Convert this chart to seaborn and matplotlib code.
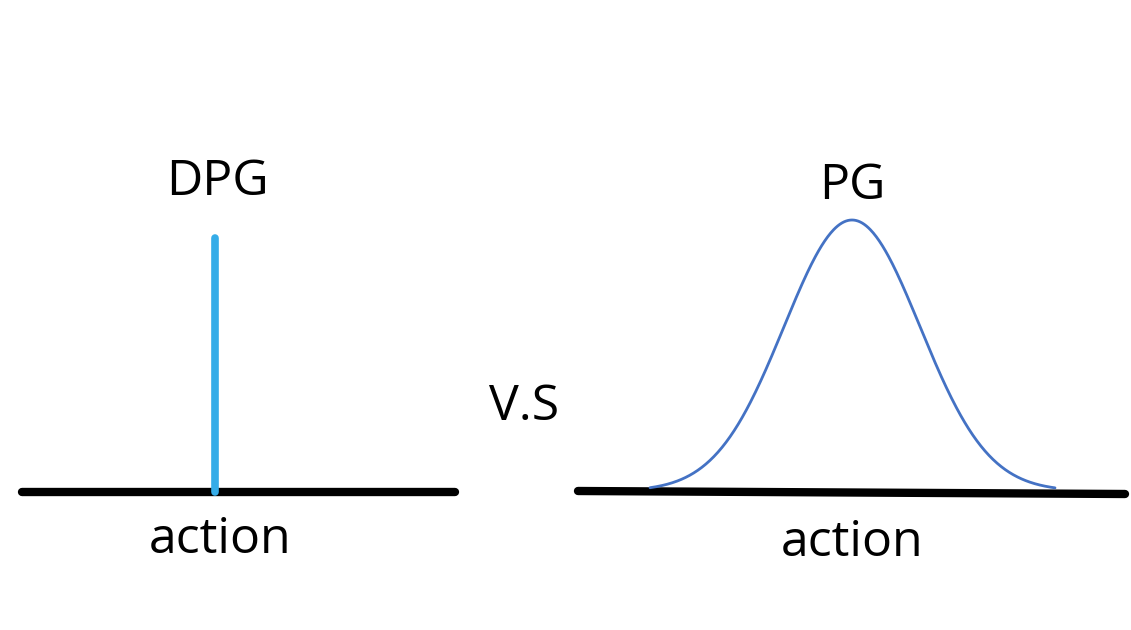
import numpy as np
import matplotlib
matplotlib.use("Agg")
import matplotlib.pyplot as plt
import seaborn as sns

sns.set_theme(style="white")
plt.rcParams['font.family'] = ['Open Sans', 'DejaVu Sans']

# diagram data (pixel space)
left_axis_x = [22, 455]
left_axis_y = [492, 492]
spike_x = 215
spike_top = 238
right_axis_x = [578, 1125]
right_axis_y = [491, 494]
pg_mean = 852
pg_sigma = 68
pg_peak = 220
pg_base = 491
curve_start, curve_end = 650, 1055
labels = ["DPG", "PG", "V.S", "action", "action"]

fig = plt.figure(figsize=(11.31, 6.30), dpi=100)
ax = fig.add_axes([0, 0, 1, 1])
ax.set_xlim(0, 1131)
ax.set_ylim(630, 0)
ax.axis("off")

sns.lineplot(x=left_axis_x, y=left_axis_y, ax=ax, color="black", linewidth=6, solid_capstyle="round")
sns.lineplot(x=right_axis_x, y=right_axis_y, ax=ax, color="black", linewidth=6, solid_capstyle="round")
ax.plot([spike_x, spike_x], [left_axis_y[0], spike_top], color="#35ace8", linewidth=5.5, solid_capstyle="round")

xs = np.linspace(curve_start, curve_end, 400)
ys = pg_base - (pg_base - pg_peak) * np.exp(-0.5 * ((xs - pg_mean) / pg_sigma) ** 2)
ax.plot(xs, ys, color="#4472c4", linewidth=2)

fs = 36
ax.text(spike_x + 2, 182, labels[0], ha="center", va="center", fontsize=fs, color="black")
ax.text(pg_mean, 186, labels[1], ha="center", va="center", fontsize=fs, color="black")
ax.text(524, 407, labels[2], ha="center", va="center", fontsize=fs, color="black")
ax.text(220, 540, labels[3], ha="center", va="center", fontsize=fs, color="black")
ax.text(pg_mean, 543, labels[4], ha="center", va="center", fontsize=fs, color="black")

fig.savefig("out.png", dpi=100, facecolor="white")
